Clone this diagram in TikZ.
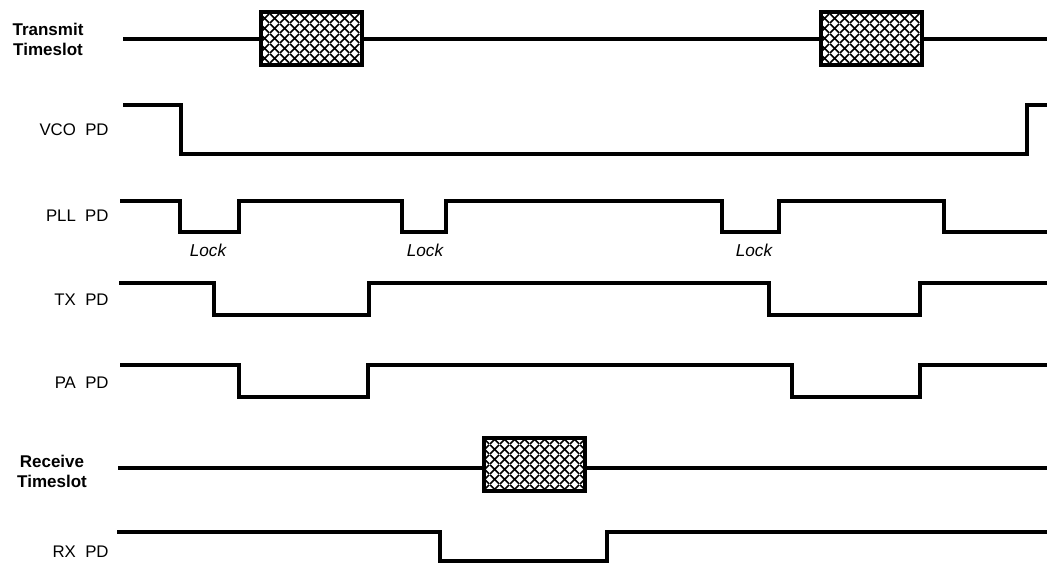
\documentclass[tikz,border=0pt]{standalone}
\usepackage{fontspec}
\setmainfont{Liberation Sans}
\usetikzlibrary{patterns.meta}

% cross hatch used inside the timeslot boxes
\tikzdeclarepattern{
  name=slotgrid,
  type=uncolored,
  bounding box={(0,0) and (5pt,5pt)},
  tile size={(5pt,5pt)},
  code={
    \draw[line width=0.9pt] (0,0) -- (5pt,5pt) (0,5pt) -- (5pt,0);
  }
}

\begin{document}
\begin{tikzpicture}[x=0.5pt,y=-0.5pt,
    wave/.style={line width=2pt},
    slot/.style={draw,line width=2pt,preaction={fill=white},pattern=slotgrid,pattern color=black,
      minimum width=50.5pt,minimum height=26.5pt,inner sep=0pt},
    siglabel/.style={anchor=east,inner sep=0pt,font=\fontsize{8.4}{10}\selectfont},
    slotlabel/.style={align=center,inner sep=0pt,font=\bfseries\fontsize{8.5}{10}\selectfont},
    locklabel/.style={inner sep=0pt,font=\itshape\fontsize{8.6}{10}\selectfont}]
    \useasboundingbox (0,0) rectangle (1047,563);

    % transmit timeslot
    \node[slotlabel] (txlabel) at (48,39) {Transmit\\Timeslot};
    \coordinate (txs0) at (123,39);
    \coordinate (txs1) at (1047,39);
    \node[slot] (burst1) at (311,38) {};
    \node[slot] (burst2) at (871,38) {};
    \draw[wave] (txs0) -- (burst1.west |- txs0);
    \draw[wave] (burst1.east |- txs0) -- (burst2.west |- txs0);
    \draw[wave] (burst2.east |- txs0) -- (txs1);

    % VCO PD
    \node[siglabel] (vco) at (109,130) {VCO\ \ PD};
    \draw[wave] (123,105) -| (181,154) -| (1027,105) -- (1047,105);

    % PLL PD
    \node[siglabel] (pll) at (109,216) {PLL\ \ PD};
    \draw[wave] (120,201) -| (180,232) -| (239,201) -| (402,232) -| (446,201)
        -| (722,232) -| (779,201) -| (944,232) -- (1047,232);
    \node[locklabel] (lock1) at (208,250) {Lock};
    \node[locklabel] (lock2) at (425,250) {Lock};
    \node[locklabel] (lock3) at (754,250) {Lock};

    % TX PD
    \node[siglabel] (tx) at (109,300) {TX\ \ PD};
    \draw[wave] (119,283) -| (214,315) -| (369,283) -| (769,315) -| (920,283) -- (1047,283);

    % PA PD
    \node[siglabel] (pa) at (109,383) {PA\ \ PD};
    \draw[wave] (120,365) -| (239,397) -| (368,365) -| (792,397) -| (920,365) -- (1047,365);

    % receive timeslot
    \node[slotlabel] (rxlabel) at (52,471) {Receive\\Timeslot};
    \coordinate (rxs0) at (118,468);
    \coordinate (rxs1) at (1047,468);
    \node[slot] (rxburst) at (534,464) {};
    \draw[wave] (rxs0) -- (rxburst.west |- rxs0);
    \draw[wave] (rxburst.east |- rxs0) -- (rxs1);

    % RX PD
    \node[siglabel] (rx) at (109,552) {RX\ \ PD};
    \draw[wave] (117,532) -| (440,561) -| (607,532) -- (1047,532);
\end{tikzpicture}
\end{document}
